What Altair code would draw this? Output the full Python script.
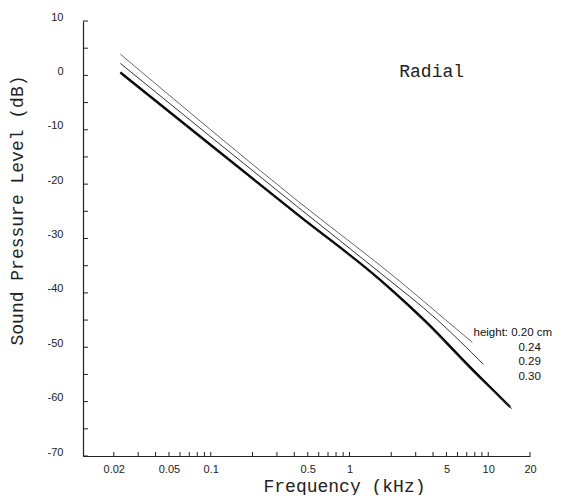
import altair as alt
import pandas as pd

# ---- data (frequency in kHz, level in dB) ----
freq_020 = [0.0223, 0.428, 2.34, 4.84, 7.68]
db_020 = [3.9, -23.2, -38.0, -44.8, -49.1]

freq_024 = [0.0223, 0.428, 1.68, 4.31, 9.20]
db_024 = [2.2, -24.3, -36.4, -45.0, -53.1]

freq_029 = [0.0223, 0.428, 1.68, 3.66, 7.43, 14.4]
db_029 = [0.55, -25.7, -37.7, -45.6, -53.7, -61.0]

freq_030 = [0.0223, 0.428, 1.68, 3.66, 7.43, 14.8]
db_030 = [0.3, -25.9, -37.9, -45.9, -54.0, -61.3]

x_label_values = [0.02, 0.05, 0.1, 0.5, 1, 5, 10, 20]
x_tick_values = [0.02, 0.03, 0.04, 0.05, 0.06, 0.07, 0.08, 0.09,
                 0.1, 0.2, 0.3, 0.4, 0.5, 0.6, 0.7, 0.8, 0.9,
                 1, 2, 3, 4, 5, 6, 7, 8, 9, 10, 20]
y_label_values = list(range(-70, 11, 10))
y_tick_values = list(range(-70, 11, 5))

legend_labels = ["height: 0.20 cm", "0.24", "0.29", "0.30"]
legend_f = [7.83, 16.5, 16.5, 16.5]
legend_db = [-47.4, -50.2, -52.8, -55.5]

series = [
    ("0.20", freq_020, db_020, "#555555", 0.9),
    ("0.24", freq_024, db_024, "#333333", 1.0),
    ("0.29", freq_029, db_029, "#000000", 2.2),
    ("0.30", freq_030, db_030, "#333333", 1.0),
]

W, H = 447, 435
INK = "#222222"
MONO = "Liberation Mono"
SANS = "Liberation Sans"

xscale = alt.Scale(type="log", domain=[0.012, 20], nice=False)
yscale = alt.Scale(domain=[-70, 10], nice=False, zero=False)

xaxis = alt.Axis(
    values=x_label_values, title="Frequency (kHz)", grid=False, ticks=False,
    domain=True, domainColor=INK, domainWidth=1.2,
    labelExpr="'' + datum.value", labelFont=SANS, labelFontSize=11,
    labelColor=INK, labelPadding=7, labelFlush=False, labelOverlap=False,
    titleFont=MONO, titleFontSize=18, titleFontWeight="normal", titleColor=INK,
    titleX=261, titleY=35, titleBaseline="alphabetic", titleAlign="center",
)
yaxis = alt.Axis(
    values=y_label_values, title="Sound Pressure Level (dB)", grid=False, ticks=False,
    domain=True, domainColor=INK, domainWidth=1.2,
    labelExpr="'' + datum.value", labelFont=SANS, labelFontSize=11,
    labelColor=INK, labelPadding=20, labelOffset=-4, labelOverlap=False,
    titleFont=MONO, titleFontSize=18, titleFontWeight="normal", titleColor=INK,
    titleX=-66, titleY=189, titleBaseline="middle", titleAlign="center",
)


def X(field):
    return alt.X(field, type="quantitative", scale=xscale, axis=xaxis)


def Y(field):
    return alt.Y(field, type="quantitative", scale=yscale, axis=yaxis)


layers = []
for name, fs, dbs, col, sw in series:
    df = pd.DataFrame({"f": fs, "db": dbs, "series": name})
    layers.append(
        alt.Chart(df).mark_line(color=col, strokeWidth=sw, interpolate="monotone").encode(
            x=X("f"), y=Y("db"))
    )

xt = pd.DataFrame({"v": x_tick_values})
layers.append(
    alt.Chart(xt).mark_rule(color=INK, strokeWidth=1).encode(
        x=X("v"), y=alt.value(H), y2=alt.value(H - 4)
    )
)
yt = pd.DataFrame({"v": y_tick_values})
layers.append(
    alt.Chart(yt).mark_rule(color=INK, strokeWidth=1).encode(
        y=Y("v"), x=alt.value(0), x2=alt.value(5)
    )
)

lg = pd.DataFrame({"f": legend_f, "db": legend_db, "t": legend_labels})
layers.append(
    alt.Chart(lg).mark_text(align="left", baseline="middle",
                            font="Liberation Sans Narrow, Liberation Sans",
                            fontSize=11.5, color="#111111").encode(x=X("f"), y=Y("db"), text="t:N")
)

rad = pd.DataFrame({"f": [3.91], "db": [0.7], "t": ["Radial"]})
layers.append(
    alt.Chart(rad).mark_text(align="center", baseline="middle", font=MONO,
                             fontSize=18, color=INK).encode(x=X("f"), y=Y("db"), text="t:N")
)

chart = alt.layer(*layers).properties(
    width=W, height=H,
    autosize=alt.AutoSizeParams(type="none"),
    padding={"left": 75, "top": 13, "right": 23, "bottom": 39},
).configure_view(stroke=None)

chart.save("out.html", embed_options={"renderer": "svg", "actions": False})
